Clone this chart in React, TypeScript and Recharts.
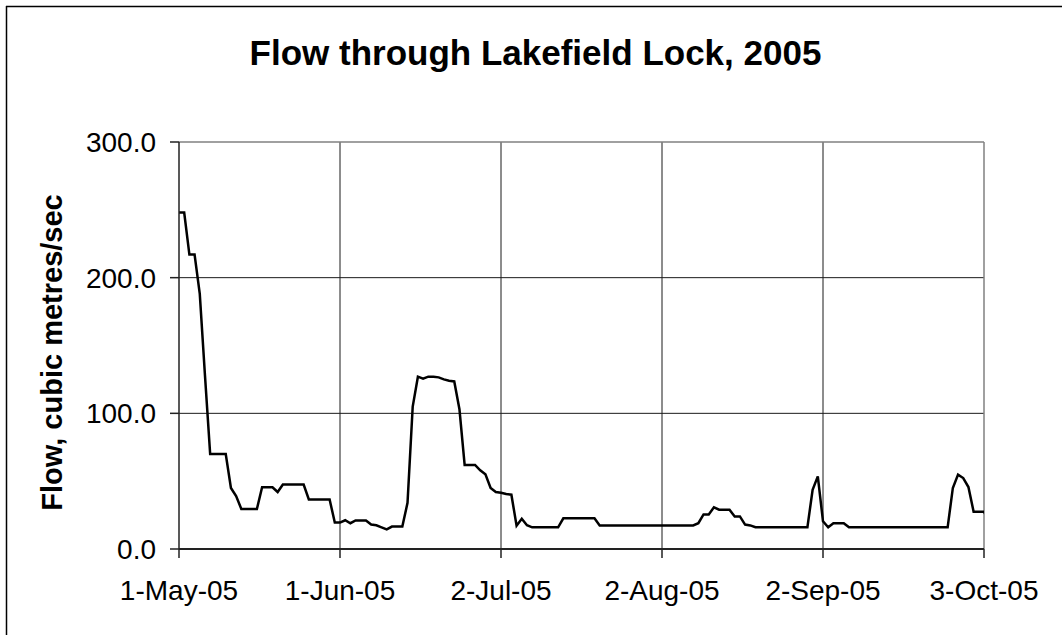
import React from 'react';
import {
  LineChart,
  Line,
  XAxis,
  YAxis,
  CartesianGrid,
  ReferenceLine,
} from 'recharts';

// Daily flow (m³/s), one value per day starting 1-May-05
const flows: number[] = [
  248, 248, 217, 217, 188, 128, 70, 70, 70, 70,
  45, 39, 29.5, 29.5, 29.5, 29.5, 45.5, 45.5, 45.5, 42,
  47.5, 47.5, 47.5, 47.5, 47.5, 36.5, 36.5, 36.5, 36.5, 36.5,
  19.5, 19.5, 21.2, 19, 21, 21, 21, 18, 17.5, 16,
  14.5, 16.5, 16.5, 16.5, 34, 105, 127, 125.5, 127, 127,
  126.5, 125, 124, 123.5, 103, 62, 62, 62, 58, 55,
  45, 42, 41.5, 40.5, 40, 17.2, 22.3, 17.5, 16, 16,
  16, 16, 16, 16, 22.6, 22.6, 22.6, 22.6, 22.6, 22.6,
  22.6, 17.4, 17.4, 17.4, 17.4, 17.4, 17.4, 17.4, 17.4, 17.4,
  17.4, 17.4, 17.4, 17.4, 17.4, 17.4, 17.4, 17.4, 17.4, 17.4,
  19, 25.5, 25.5, 30.7, 29, 29, 29, 24, 24, 18,
  17.4, 16, 16, 16, 16, 16, 16, 16, 16, 16,
  16, 16, 43.7, 53.5, 20.4, 16, 19, 19, 19, 16,
  16, 16, 16, 16, 16, 16, 16, 16, 16, 16,
  16, 16, 16, 16, 16, 16, 16, 16, 16, 45,
  54.8, 52.3, 45.7, 27.5, 27.5, 27.5, 20,
];

// Tick positions are day offsets from 1-May-05
const tickDays = [0, 31, 62, 93, 124, 155];
const tickLabels = ['1-May-05', '1-Jun-05', '2-Jul-05', '2-Aug-05', '2-Sep-05', '3-Oct-05'];
const flowTicks = [0, 100, 200, 300];

const data = flows.map((flow, day) => ({ day, flow }));

const FONT = 'Arial, "Liberation Sans", Helvetica, sans-serif';

const YLabel = (props: any) => {
  const { x, y, height } = props.viewBox;
  const cx = x + 62;
  const cy = y + height / 2 + 7;
  return (
    <text
      x={cx}
      y={cy}
      transform={`rotate(-90, ${cx}, ${cy})`}
      textAnchor="middle"
      fontFamily={FONT}
      fontSize={29}
      fontWeight="bold"
      fill="#000"
    >
      Flow, cubic metres/sec
    </text>
  );
};

export default function App() {
  return (
    <div
      style={{
        position: 'absolute',
        left: 0,
        top: 0,
        width: 1062,
        height: 635,
        background: '#fff',
        overflow: 'hidden',
      }}
    >
      <svg width={1062} height={635} style={{ position: 'absolute', left: 0, top: 0 }}>
        <line x1={6.5} y1={6} x2={6.5} y2={635} stroke="#000" strokeWidth={1.5} />
        <line x1={6} y1={6.5} x2={1062} y2={6.5} stroke="#000" strokeWidth={1.5} />
        <text
          x={535.5}
          y={65}
          textAnchor="middle"
          fontFamily={FONT}
          fontSize={35}
          fontWeight="bold"
          fill="#000"
        >
          Flow through Lakefield Lock, 2005
        </text>
      </svg>
      <div style={{ position: 'absolute', left: 0, top: 0 }}>
        <LineChart
          width={1062}
          height={635}
          data={data}
          margin={{ top: 142, right: 78, bottom: 26, left: 0 }}
        >
          <CartesianGrid
            stroke="#1a1a1a"
            strokeWidth={1}
            horizontalValues={[100, 200]}
            verticalValues={[31, 62, 93, 124]}
          />
          <ReferenceLine y={300} stroke="#808080" strokeWidth={1.5} />
          <ReferenceLine x={155} stroke="#808080" strokeWidth={1.5} />
          <XAxis
            dataKey="day"
            type="number"
            domain={[0, 155]}
            allowDataOverflow
            ticks={tickDays}
            tickFormatter={(d: number) => tickLabels[tickDays.indexOf(d)]}
            interval={0}
            height={60}
            tickSize={9}
            tickMargin={22}
            axisLine={{ stroke: '#222', strokeWidth: 2 }}
            tickLine={{ stroke: '#222', strokeWidth: 1.5 }}
            tick={{ fill: '#000', fontSize: 28, fontFamily: FONT }}
          />
          <YAxis
            type="number"
            domain={[0, 300]}
            ticks={flowTicks}
            tickFormatter={(v: number) => v.toFixed(1)}
            interval={0}
            width={179}
            tickSize={9}
            tickMargin={14}
            axisLine={{ stroke: '#222', strokeWidth: 1.5 }}
            tickLine={{ stroke: '#222', strokeWidth: 1.5 }}
            tick={{ fill: '#000', fontSize: 28, fontFamily: FONT }}
            label={{ content: YLabel }}
          />
          <Line
            type="linear"
            dataKey="flow"
            stroke="#000"
            strokeWidth={2.5}
            dot={false}
            isAnimationActive={false}
          />
        </LineChart>
      </div>
    </div>
  );
}
